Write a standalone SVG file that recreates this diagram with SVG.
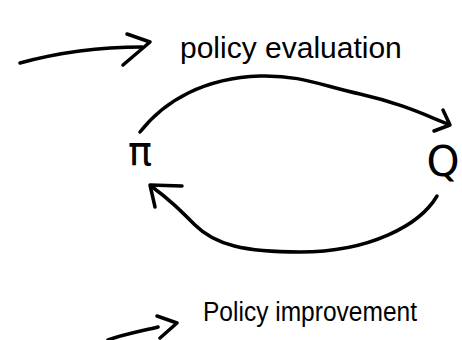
<svg xmlns="http://www.w3.org/2000/svg" width="462" height="340" viewBox="0 0 462 340">
  <style>
    .ink { fill: none; stroke: #000; stroke-width: 3.5; stroke-linecap: round; stroke-linejoin: round; }
    .label { font-family: "Liberation Sans", "DejaVu Sans", sans-serif; fill: #000; }
    .sym { font-family: "DejaVu Sans", "Liberation Sans", sans-serif; fill: #000; }
  </style>
  <rect width="462" height="340" fill="#fff"/>

  <!-- policy pi -->
  <g id="node-pi">
    <text class="sym" x="140" y="165" font-size="40" text-anchor="middle">π</text>
  </g>

  <!-- action-value Q -->
  <g id="node-Q">
    <text class="sym" x="443" y="176" font-size="42" text-anchor="middle">Q</text>
  </g>

  <!-- captions -->
  <g id="label-evaluation">
    <text class="label" x="180" y="58" font-size="30">policy evaluation</text>
  </g>
  <g id="label-improvement">
    <text class="label" x="203" y="321" font-size="27" textLength="214" lengthAdjust="spacingAndGlyphs">Policy improvement</text>
  </g>

  <g id="connectors">
    <!-- pointer to "policy evaluation" -->
    <path class="ink" d="M20 63 C60 52 100 47 142 47"/>
    <path class="ink" d="M127 34 L150 42 L123 65"/>

    <!-- evaluation: pi -> Q -->
    <path class="ink" d="M140 132 C165 100 205 78 260 76 C300 75 320 85 360 94 C400 103 425 115 448 124"/>
    <path class="ink" d="M443 110 L450 125 L434 131"/>

    <!-- improvement: Q -> pi -->
    <path class="ink" d="M437 196 C420 225 370 252 300 252 C245 252 215 245 195 225 C180 210 170 200 151 186"/>
    <path class="ink" d="M182 186 L150 185 L155 207"/>

    <!-- pointer to "Policy improvement" -->
    <path class="ink" d="M108 340 C125 334 142 331 158 327"/>
    <path class="ink" d="M157 316 L177 323 L160 338"/>
  </g>
</svg>
